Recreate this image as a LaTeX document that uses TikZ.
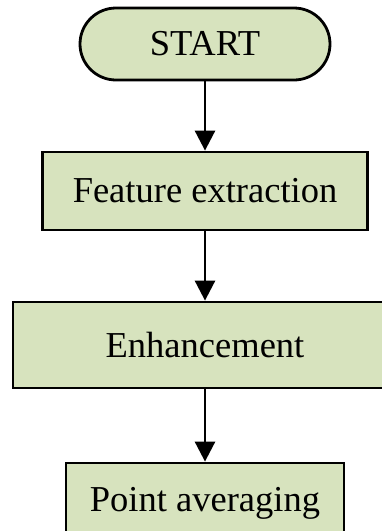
\documentclass[tikz,border=0pt]{standalone}
\usepackage{fontspec}
\setmainfont{Liberation Serif}
\usetikzlibrary{arrows.meta}
\definecolor{boxgreen}{RGB}{215,227,190}

\begin{document}
\begin{tikzpicture}[x=1pt,y=1pt,
  box/.style={draw=black,line width=2.8pt,fill=boxgreen,inner sep=0pt,font=\fontsize{36.5}{42}\selectfont},
  flow/.style={draw=black,line width=2.8pt,-{Triangle[width=20pt,length=20pt]}}]

\useasboundingbox (0,0) rectangle (382,-531);

%start
\node[box,rounded corners=36pt,minimum width=250pt,minimum height=72pt] (start) at (205,-44) {START};

%feature extraction
\node[box,minimum width=325pt,minimum height=78pt] (feat) at (205,-191) {Feature extraction};

%enhancement
\node[box,minimum width=384pt,minimum height=86pt] (enh) at (205,-345) {Enhancement};

%point averaging
\node[box,minimum width=278pt,minimum height=80pt] (avg) at (205,-503) {Point averaging};

\path[flow] (start.south) -- (feat.north);
\path[flow] (feat.south) -- (enh.north);
\path[flow] (enh.south) -- (avg.north);

\end{tikzpicture}
\end{document}
